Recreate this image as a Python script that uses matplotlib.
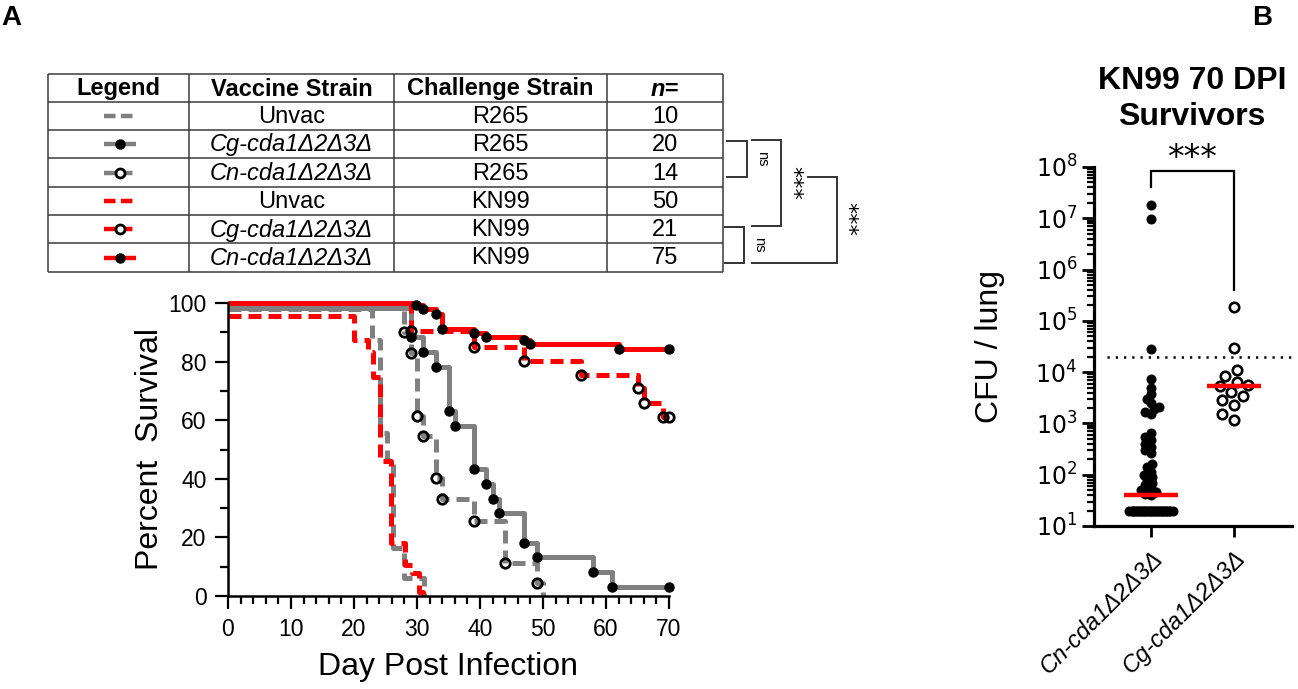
import numpy as np
import matplotlib
matplotlib.use('Agg')
import matplotlib.pyplot as plt
from matplotlib.ticker import MultipleLocator, LogLocator, NullFormatter, FuncFormatter

plt.rcParams['font.family'] = ['Liberation Sans', 'DejaVu Sans']
plt.rcParams['mathtext.fontset'] = 'dejavusans'

GREY = '#808080'
RED = '#ff0000'

# ---------------- table data ----------------
table_header = ['Legend', 'Vaccine Strain', 'Challenge Strain', 'n=']
vaccine_strain = ['Unvac', 'Cg-cda1Δ2Δ3Δ', 'Cn-cda1Δ2Δ3Δ', 'Unvac', 'Cg-cda1Δ2Δ3Δ', 'Cn-cda1Δ2Δ3Δ']
challenge_strain = ['R265', 'R265', 'R265', 'KN99', 'KN99', 'KN99']
n_mice = [10, 20, 14, 50, 21, 75]

# ---------------- survival data (percent survival as plotted) ----------------
unvac_r265_day = [0, 22.9, 24.1, 25.3, 26.2, 28, 31.1]
unvac_r265_pct = [97.8, 87.4, 55.5, 46.5, 16.5, 6.2, 0]
cg_r265_day = [0, 29, 31, 33, 35, 36, 39, 41, 42, 43, 47, 49, 58, 61, 70]
cg_r265_pct = [98.3, 88.3, 83.4, 78.3, 63.2, 58.1, 43.3, 38.2, 33.1, 28.2, 18.2, 13.2, 8.3, 3.2, 3.2]
cn_r265_day = [0, 28, 29, 30, 31, 33, 34, 39, 44, 49, 50]
cn_r265_pct = [98.5, 90.2, 82.8, 61.5, 54.6, 40.2, 33.0, 25.7, 11.4, 4.5, 0]
unvac_kn99_day = [0, 20, 22.3, 23, 24.2, 25.9, 28.1, 29.2, 30.3, 31]
unvac_kn99_pct = [95.6, 87.4, 83.4, 74.8, 46, 18, 10.6, 7.7, 1.4, 0]
cg_kn99_day = [0, 29, 39, 47, 56, 65, 66, 69, 70]
cg_kn99_pct = [100, 90.5, 85.1, 80.2, 75.4, 70.9, 66.0, 61.2, 61.2]
cn_kn99_day = [0, 29.8, 31, 33, 34, 39, 41, 47, 48, 62, 70]
cn_kn99_pct = [100, 99.3, 97.8, 96.2, 91.0, 89.9, 88.5, 87.4, 85.9, 84.4, 84.4]

x_ticks_surv = [0, 10, 20, 30, 40, 50, 60, 70]
y_ticks_surv = [0, 20, 40, 60, 80, 100]

# ---------------- CFU data (panel B) ----------------
cfu_groups = ['Cn-cda1Δ2Δ3Δ', 'Cg-cda1Δ2Δ3Δ']
cfu_cn = [1.8e7, 9.5e6, 2.8e4, 7.2e3, 5.0e3, 3.8e3, 3.0e3, 2.5e3, 2.1e3, 1.9e3, 1.7e3,
          1.5e3, 650, 550, 480, 400, 350, 300, 270, 160, 140, 115, 100, 90, 80, 70,
          62, 55, 50, 45, 42, 40] + [20] * 31
cfu_cg = [1.9e5, 2.9e4, 1.1e4, 8.5e3, 6.5e3, 5.5e3, 5.3e3, 4.1e3, 3.4e3, 2.8e3,
          2.3e3, 1.5e3, 1.15e3]
detection_limit = 2e4

# ---------------- styles ----------------
groups = [
    dict(day=unvac_r265_day, pct=unvac_r265_pct, color=GREY, dashed=True, marker=None),
    dict(day=cg_r265_day, pct=cg_r265_pct, color=GREY, dashed=False, marker='filled'),
    dict(day=cn_r265_day, pct=cn_r265_pct, color=GREY, dashed=True, marker='open'),
    dict(day=unvac_kn99_day, pct=unvac_kn99_pct, color=RED, dashed=True, marker=None),
    dict(day=cg_kn99_day, pct=cg_kn99_pct, color=RED, dashed=True, marker='open'),
    dict(day=cn_kn99_day, pct=cn_kn99_pct, color=RED, dashed=False, marker='filled'),
]
DASH = (0, (2.6, 1.4))

W, H = 1298, 689
fig = plt.figure(figsize=(W / 100, H / 100), dpi=100)

# overlay axes in pixel coordinates for table / annotations
ov = fig.add_axes([0, 0, 1, 1])
ov.set_xlim(0, W)
ov.set_ylim(H, 0)
ov.axis('off')

ov.text(11, 18, 'A', fontsize=20, fontweight='bold', ha='center', va='center')
ov.text(1262, 18, 'B', fontsize=20, fontweight='bold', ha='center', va='center')

# ---- table ----
col_x = [48, 189, 394, 607, 723]
row_y = [74, 102, 130, 158, 187, 215, 243, 272]
tcol = '#3a3a3a'
TFS = 17
for x in col_x:
    ov.plot([x, x], [row_y[0], row_y[-1]], color=tcol, lw=1.1, solid_capstyle='butt')
for y in row_y:
    ov.plot([col_x[0], col_x[-1]], [y, y], color=tcol, lw=1.1, solid_capstyle='butt')
col_c = [(col_x[i] + col_x[i + 1]) / 2 for i in range(4)]
hy = (row_y[0] + row_y[1]) / 2
for i, h in enumerate(table_header):
    ov.text(col_c[i], hy + 1, h, fontsize=TFS, fontweight='bold', ha='center', va='center',
            fontstyle='italic' if h == 'n=' else 'normal')
for r in range(6):
    cy = (row_y[r + 1] + row_y[r + 2]) / 2
    vs = vaccine_strain[r]
    ov.text(col_c[1], cy + 1, vs, fontsize=TFS, ha='center', va='center',
            fontstyle='normal' if vs == 'Unvac' else 'italic')
    ov.text(col_c[2], cy + 1, challenge_strain[r], fontsize=TFS, ha='center', va='center')
    ov.text(col_c[3], cy + 1, str(n_mice[r]), fontsize=TFS, ha='center', va='center')
    g = groups[r]
    ov.plot([104, 136], [cy, cy], color=g['color'], lw=3.2,
            ls=(0, (2.6, 1.2)) if g['dashed'] else '-', solid_capstyle='butt')
    if g['marker'] == 'filled':
        ov.plot([120], [cy], 'o', ms=6.5, color='black')
    elif g['marker'] == 'open':
        ov.plot([120], [cy], 'o', ms=6.5, mfc='white', mec='black', mew=2)

# ---- significance brackets next to table ----
bc = '#333333'


def bracket(x0, x1, y0, y1, xtop0=None):
    ov.plot([xtop0 if xtop0 is not None else x0, x1, x1, x0], [y0, y0, y1, y1],
            color=bc, lw=1.4, solid_joinstyle='miter')


bracket(727, 747, 141, 177)
ov.text(762, 159, 'ns', fontsize=10.5, rotation=270, ha='center', va='center')
bracket(752, 781, 140, 226)
ov.text(792, 183, '***', fontsize=16, rotation=270, ha='center', va='center',
        family='DejaVu Sans')
bracket(725, 744, 227, 263)
ov.text(759, 245, 'ns', fontsize=10.5, rotation=270, ha='center', va='center')
bracket(752, 837, 177, 263, xtop0=808)
ov.text(847, 219, '***', fontsize=16, rotation=270, ha='center', va='center',
        family='DejaVu Sans')

# ---------------- survival panel ----------------
axA = fig.add_axes([228 / W, 1 - 596 / H, (669 - 228) / W, (596 - 303) / H])
axA.patch.set_alpha(0)
for g in groups:
    d = np.array(g['day'], float)
    p = np.array(g['pct'], float)
    axA.plot(d, p, drawstyle='steps-post', color=g['color'], lw=3.6,
             ls=DASH if g['dashed'] else '-', solid_capstyle='butt', clip_on=False, zorder=2)
for g in groups:
    d = np.array(g['day'], float)[1:]
    p = np.array(g['pct'], float)[1:]
    m = p > 0
    if g['marker'] == 'filled':
        axA.plot(d[m], p[m], 'o', ms=6.5, color='black', zorder=4, clip_on=False)
    elif g['marker'] == 'open':
        axA.plot(d[m], p[m], 'o', ms=6.8, mfc='none', mec='black', mew=2.0, zorder=4,
                 clip_on=False)

axA.set_xlim(0, 70)
axA.set_ylim(0, 100)
for s in ['top', 'right']:
    axA.spines[s].set_visible(False)
for s in ['left', 'bottom']:
    axA.spines[s].set_linewidth(1.8)
axA.set_xticks(x_ticks_surv)
axA.set_yticks(y_ticks_surv)
axA.xaxis.set_minor_locator(MultipleLocator(2))
axA.yaxis.set_minor_locator(MultipleLocator(10))
axA.tick_params(which='major', length=9.5, width=1.6, labelsize=16.5, pad=6)
axA.tick_params(which='minor', length=5.5, width=1.6)
axA.text(0.5, -0.242, 'Day Post Infection', transform=axA.transAxes, fontsize=23,
         ha='center', va='center')
axA.text(-0.176, 0.5, 'Percent  Survival', transform=axA.transAxes, fontsize=23,
         ha='center', va='center', rotation=90)

# ---------------- panel B ----------------
axB = fig.add_axes([1094 / W, 1 - 526 / H, (1292 - 1094) / W, (526 - 167) / H])
axB.patch.set_alpha(0)
axB.set_yscale('log')
axB.set_ylim(10, 1e8)
axB.set_xlim(-0.687, 1.70)


def swarm_x(ax, xc, vals, diam, max_half):
    pts = ax.transData.transform(np.column_stack([np.full(len(vals), xc), vals]))
    ys = pts[:, 1]
    ppu = ax.transData.transform([[1, 1]])[0, 0] - ax.transData.transform([[0, 1]])[0, 0]
    step = diam / 4.0
    k = int(max_half / step)
    cands = [0.0]
    for i in range(1, k + 1):
        cands += [-i * step, i * step]
    order = np.argsort(ys, kind='stable')
    placed = []
    offs = np.zeros(len(vals))
    for idx in order:
        y = ys[idx]
        best, bestd = 0.0, -1.0
        for c in cands:
            if placed:
                pa = np.array(placed)
                dd = np.min(np.hypot(c - pa[:, 0], y - pa[:, 1]))
            else:
                dd = np.inf
            if dd >= diam:
                best = c
                break
            if dd > bestd:
                best, bestd = c, dd
        placed.append((best, y))
        offs[idx] = best
    return xc + offs / ppu


xcn = swarm_x(axB, 0, cfu_cn, 5.5, 24)
xcg = swarm_x(axB, 1, cfu_cg, 11.5, 20)
axB.plot(xcn, cfu_cn, 'o', ms=6.2, color='black', ls='none', clip_on=False, zorder=3)
axB.plot(xcg, cfu_cg, 'o', ms=6.8, mfc='white', mec='black', mew=1.9, ls='none',
         clip_on=False, zorder=3)
for i, vals in enumerate([cfu_cn, cfu_cg]):
    med = np.median(vals)
    axB.plot([i - 0.33, i + 0.33], [med, med], color=RED, lw=3.2, solid_capstyle='butt',
             zorder=5)
axB.plot([-0.53, 1.70], [detection_limit, detection_limit], color='black', lw=1.8,
         ls=(0, (0.9, 2.4)), zorder=1, clip_on=False)

# bracket
axB.plot([0, 0, 1, 1], [4.1e7, 8.4e7, 8.4e7, 4.0e5], color='black', lw=1.6, clip_on=False,
         solid_joinstyle='miter')
axB.text(0.5, 1.45e8, '***', fontsize=24, ha='center', va='center', family='DejaVu Sans',
         clip_on=False)

for s in ['top', 'right']:
    axB.spines[s].set_visible(False)
for s in ['left', 'bottom']:
    axB.spines[s].set_linewidth(2.3)
axB.yaxis.set_major_locator(LogLocator(base=10, numticks=20))
axB.yaxis.set_major_formatter(FuncFormatter(lambda v, pos: r'$10^{%d}$' % round(np.log10(v))))
axB.yaxis.set_minor_locator(LogLocator(base=10, subs=np.arange(2, 10), numticks=20))
axB.yaxis.set_minor_formatter(NullFormatter())
axB.tick_params(axis='y', which='major', length=9, width=2, labelsize=17, pad=3)
axB.tick_params(axis='y', which='minor', length=5, width=1.6)
axB.set_xticks([0, 1])
axB.set_xticklabels(cfu_groups, rotation=45, ha='right', va='top', rotation_mode='anchor',
                    fontsize=17, fontstyle='italic')
axB.tick_params(axis='x', length=8, width=2, pad=7)
axB.text(-0.525, 0.5, 'CFU / lung', transform=axB.transAxes, fontsize=23, rotation=90,
         ha='center', va='center')

ov.text(1192, 81, 'KN99 70 DPI', fontsize=23, fontweight='bold', ha='center', va='center')
ov.text(1192, 117, 'Survivors', fontsize=23, fontweight='bold', ha='center', va='center')

fig.savefig('out.png', dpi=100)
